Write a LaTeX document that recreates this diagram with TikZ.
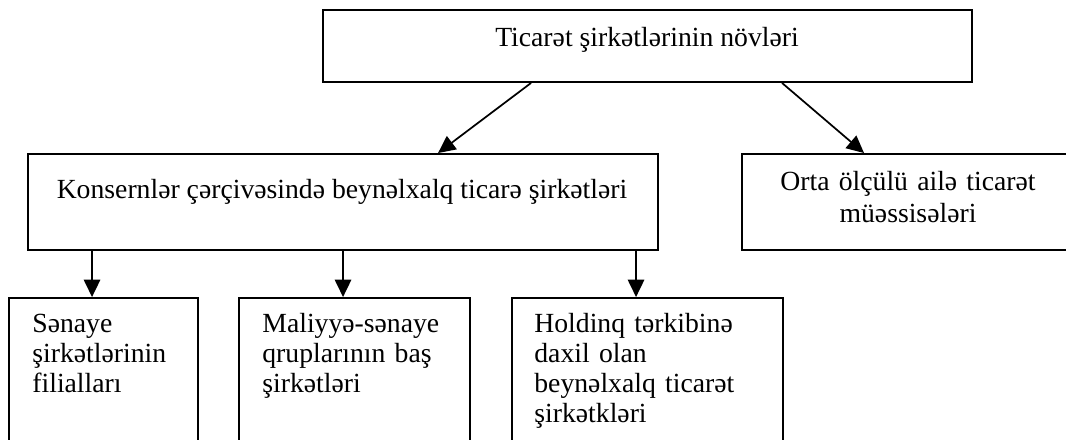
\documentclass[tikz,border=0pt]{standalone}
\usepackage{fontspec}
\setmainfont{Liberation Serif}
\usetikzlibrary{arrows.meta,calc,fit,positioning}
\tikzset{>={Triangle[length=9pt,width=8.5pt]}}
\tikzset{
  box/.style={draw,line width=1pt,inner sep=0pt},
  txt/.style={inner sep=0pt,font=\fontsize{14.4}{15.6}\selectfont},
  link/.style={->,line width=0.9pt},
}

\begin{document}
\begin{tikzpicture}[x=0.52pt,y=-0.52pt]
\useasboundingbox (0,0) rectangle (1066,439);
\clip (0,0) rectangle (1066,439);
% boxes
\node[box,fit={(323,10) (972,82)}] (vidy) {};
\node[box,fit={(28,154) (658,250)}] (konsern) {};
\node[box,fit={(742,154) (1080,250)}] (orta) {};
\node[box,fit={(9,298) (198,460)}] (senaye) {};
\node[box,fit={(239,298) (470,460)}] (maliyye) {};
\node[box,fit={(512,298) (783,460)}] (holding) {};
% texts
\node[txt,anchor=base] (vidyT) at (647,46) {Ticarət şirkətlərinin növləri};
\node[txt,anchor=base] (konsernT) at (342,198) {Konsernlər çərçivəsində beynəlxalq ticarə şirkətləri};
\node[txt,anchor=base,text width=300,align=center,font=\fontsize{14.4}{17}\selectfont] (ortaT) at (908,190) {Orta ölçülü ailə ticarət\\müəssisələri};
\node[txt,anchor=base west,text width=170,align=left] (senayeT) at (32,332) {Sənaye\\şirkətlərinin\\filialları};
\node[txt,anchor=base west,text width=200,align=left] (maliyyeT) at (262,332) {Maliyyə-sənaye\\qruplarının baş\\şirkətləri};
\node[txt,anchor=base west,text width=240,align=left] (holdingT) at (534,332) {Holdinq tərkibinə\\daxil olan\\beynəlxalq ticarət\\şirkətkləri};
% arrows
\draw[link] ($(vidy.south west)+(209,0)$) -- ($(konsern.north west)+(411,0)$);
\draw[link] ($(vidy.south west)+(460,0)$) -- ($(orta.north west)+(123,0)$);
\draw[link] ($(konsern.south west)+(65,0)$) -- ($(senaye.north west)+(84,0)$);
\draw[link] ($(konsern.south west)+(316,0)$) -- ($(maliyye.north west)+(105,0)$);
\draw[link] ($(konsern.south west)+(609,0)$) -- ($(holding.north west)+(125,0)$);
\end{tikzpicture}
\end{document}
